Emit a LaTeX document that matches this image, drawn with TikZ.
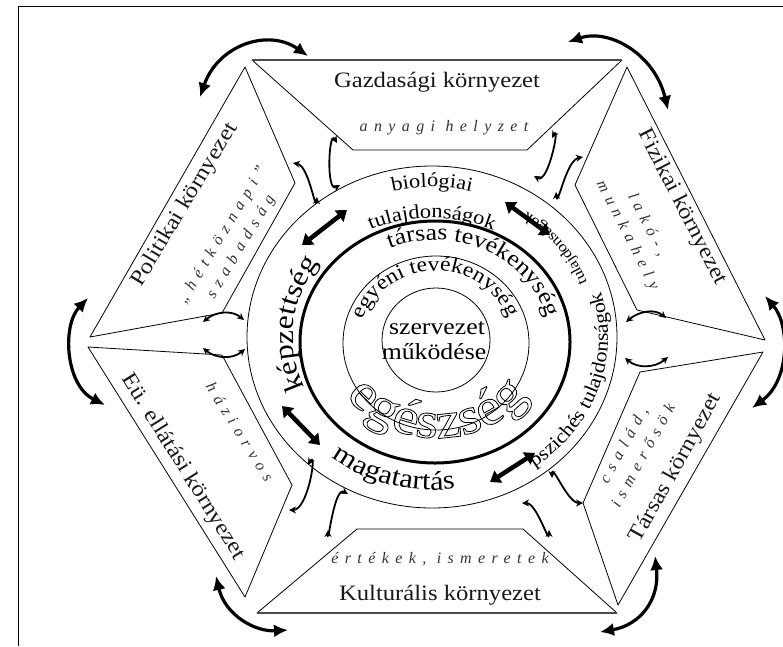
\documentclass[tikz,border=0pt]{standalone}
\usepackage{fontspec}
\setmainfont{Liberation Serif}[FakeStretch=1.12]
\newfontfamily\spfont{Liberation Serif}[LetterSpace=40]
\usetikzlibrary{arrows.meta,decorations.text,calc}
\newcommand\outlon{\special{pdf:literal direct 1 Tr 0.8 w}}
\begin{document}
\begin{tikzpicture}[x=1pt,y=-1pt,
  panel/.style={draw, line width=0.8pt, line join=round},
  ringline/.style={draw, line width=0.8pt},
  carr/.style={line width=1.8pt, {Stealth[length=7pt,width=7pt]}-{Stealth[length=7pt,width=7pt]}},
  varr/.style={line width=3.2pt, {Latex[length=14pt,width=13pt]}-{Latex[length=14pt,width=13pt]}},
  sarr/.style={line width=4.5pt, {Triangle[length=10pt,width=14pt]}-{Triangle[length=10pt,width=14pt]}},
  title/.style={font=\fontsize{22}{22}\selectfont, text=black!90, inner sep=0pt},
  subt/.style={font=\spfont\itshape\fontsize{16}{22}\selectfont, text=black!80, inner sep=0pt, align=center},
  ptext/.style={decorate, decoration={text along path, text align=center, #1}}]
\useasboundingbox (0,0) rectangle (783,646);
% frame
\draw[line width=1pt] (18,646) -- (18,6) -- (783,6);
% centres
\coordinate (O) at (432,337);
\coordinate (T) at (435,342);
\coordinate (M) at (436,343);
\coordinate (I) at (436,340);
\coordinate (E) at (437,318);
% panels
\draw[panel] (252,60) -- (622,60) -- (527,150) -- (353,150) -- cycle;
\draw[line width=1.4pt, black!70] (252,60) -- (622,60);
\draw[panel] (627,67) -- (765,340) -- (637,310) -- (575,185) -- cycle;
\draw[panel] (763,352) -- (640,372) -- (583,503) -- (618,605) -- cycle;
\draw[panel] (257,613) -- (617,613) -- (523,529) -- (357,529) -- cycle;
\draw[line width=1.4pt, black!70] (257,613) -- (617,613);
\draw[panel] (88,347) -- (222,355) -- (292,485) -- (245,597) -- cycle;
\draw[panel] (245,67) -- (295,183) -- (222,313) -- (90,337) -- cycle;
% circles
\draw[ringline] (O) ellipse[x radius=185, y radius=171];
\draw[line width=3pt] (T) ellipse[x radius=135, y radius=121];
\draw[ringline] (M) ellipse[x radius=93, y radius=87];
\draw[ringline] (I) ellipse[x radius=54, y radius=52];
% panel texts
\node[title] (gaz) at (437,82) {Gazdasági környezet};
\node[subt] (gazs) at (444,128) {anyagi helyzet};
\node[title] (kul) at (440,595) {Kulturális környezet};
\node[subt] (kuls) at (440,559) {értékek, ismeretek};
\node[title, rotate=-63] (fiz) at (682,207) {Fizikai környezet};
\node[subt, rotate=-63] (fizs) at (637,230) {lakó-,\\munkahely};
\node[title, rotate=61] (tar) at (676,468) {Társas környezet};
\node[subt, rotate=61] (tars) at (633,450) {család,\\ismerősök};
\node[title, rotate=59] (pol) at (185,205) {Politikai környezet};
\node[subt, rotate=59] (pols) at (232,241) {„hétköznapi”\\szabadság};
\node[title, rotate=-58] (eu) at (183,467) {Eü. ellátási környezet};
\node[subt, rotate=-58] (eus) at (240,432) {háziorvos};
% ring texts
\path[ptext={text={|\fontsize{20}{20}\selectfont|biológiai}}]
  ($(O)+(-110:160 and 150)$) arc[start angle=-110, end angle=-70, x radius=160, y radius=150];
\path[ptext={text={|\fontsize{20}{20}\selectfont|tulajdonságok}}]
  ($(O)+(-122:140 and 119)$) arc[start angle=-122, end angle=-58, x radius=140, y radius=119];
\path[ptext={text={|\fontsize{19.5}{19.5}\selectfont|pszichés tulajdonságok}}]
  ($(O)+(55:176 and 160)$) arc[start angle=55, end angle=-17, x radius=176, y radius=160];
\path[ptext={text={|\fontsize{15}{15}\selectfont|tulajdonságok}}]
  ($(O)+(-19:166 and 153)$) arc[start angle=-19, end angle=-57, x radius=166, y radius=153];
\path[ptext={text={|\fontsize{28}{28}\selectfont|képzettség}}]
  ($(O)+(150:139 and 127)$) arc[start angle=150, end angle=222, x radius=139, y radius=127];
\path[ptext={text={|\fontsize{27}{27}\selectfont|magatartás}}]
  ($(O)+(133:163 and 153)$) arc[start angle=133, end angle=77, x radius=163, y radius=153];
\path[ptext={text={|\fontsize{23}{23}\selectfont|társas tevékenység}}]
  ($(T)+(-124:115 and 102)$) arc[start angle=-124, end angle=-2, x radius=115, y radius=102];
\path[ptext={text={|\fontsize{21}{21}\selectfont|egyéni tevékenység}}]
  ($(M)+(-180:77 and 72)$) arc[start angle=-180, end angle=-2, x radius=77, y radius=72];
\node[font=\fontsize{23}{23}\selectfont, inner sep=0pt] (szerv) at (437,328) {szervezet};
\node[font=\fontsize{23}{23}\selectfont, inner sep=0pt] (mukod) at (434,352) {működése};
% straight arrows
\draw[sarr] (302,245) -- (347,210);
\draw[sarr] (505,202) -- (550,235);
\draw[sarr] (282,406) -- (320,445);
\draw[sarr] (490,482) -- (535,453);
% vertex arrows
\draw[varr] (200,97) .. controls (218,45) and (268,28) .. (308,56);
\draw[varr] (568,42) .. controls (610,28) and (655,55) .. (668,110);
\draw[varr] (765,296) .. controls (790,325) and (790,380) .. (752,408);
\draw[varr] (655,556) .. controls (660,600) and (640,625) .. (600,632);
\draw[varr] (216,576) .. controls (225,615) and (255,632) .. (288,630);
\draw[varr] (88,298) .. controls (62,325) and (65,385) .. (105,405);
% small arrows
\draw[carr] (293,163) to[out=-10,in=-95] (317,197);
\draw[carr] (337,143) to[out=120,in=-150] (340,185);
\draw[carr] (552,138) to[out=60,in=-30] (534,176);
\draw[carr] (583,157) to[out=190,in=-85] (556,192);
\draw[carr] (203,322) to[out=40,in=140] (244,320);
\draw[carr] (203,348) to[out=-40,in=-140] (245,349);
\draw[carr] (626,322) to[out=40,in=140] (666,318);
\draw[carr] (625,358) to[out=-40,in=-140] (668,357);
\draw[carr] (308,465) to[out=60,in=0] (289,510);
\draw[carr] (348,494) to[out=150,in=-90] (328,530);
\draw[carr] (522,503) to[out=0,in=-90] (549,530);
\draw[carr] (552,478) to[out=90,in=180] (583,503);
% egészség outlined
\path[ptext={text={|\fontsize{52}{52}\selectfont\outlon|egészség}}]
  ($(E)+(150:120)$) arc[start angle=150, end angle=30, radius=120];
\end{tikzpicture}
\end{document}
